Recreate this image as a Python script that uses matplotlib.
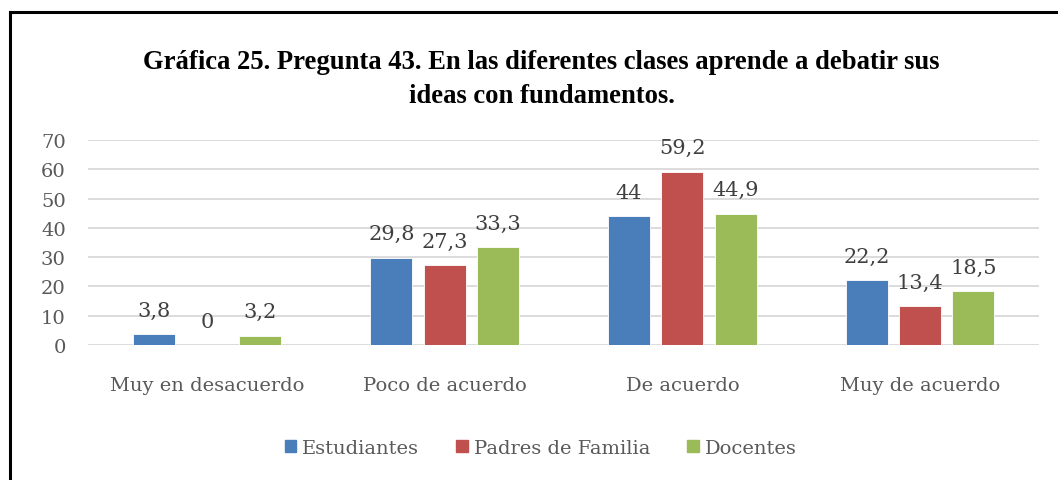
import numpy as np
import matplotlib.pyplot as plt
from matplotlib.lines import Line2D

categorias = ['Muy en desacuerdo', 'Poco de acuerdo', 'De acuerdo', 'Muy de acuerdo']
estudiantes = [3.8, 29.8, 44, 22.2]
padres = [0, 27.3, 59.2, 13.4]
docentes = [3.2, 33.3, 44.9, 18.5]
series = ['Estudiantes', 'Padres de Familia', 'Docentes']
colores = ['#4a7ebb', '#c0504d', '#9bbb59']

plt.rcParams['font.family'] = ['DejaVu Serif']

fig = plt.figure(figsize=(10.58, 4.81), dpi=100)
ax = fig.add_axes([88 / 1058, 1 - 346 / 481, (1039 - 88) / 1058, (346 - 141) / 481])

x = np.arange(len(categorias))
w = 0.176
paso = 0.224
for i, (vals, nombre, c) in enumerate(zip([estudiantes, padres, docentes], series, colores)):
    pos = x + (i - 1) * paso
    ax.bar(pos, vals, w, color=c, edgecolor='white', linewidth=0.6,
           label=nombre, zorder=3)
    for xb, v in zip(pos, vals):
        txt = f'{v:g}'.replace('.', ',')
        ax.text(xb, v + 4.9, txt, ha='center', va='bottom', fontsize=15,
                color='#404040')

ax.set_ylim(0, 70)
ax.set_xlim(-0.5, 3.5)
ax.set_yticks(range(0, 71, 10))
ax.yaxis.grid(True, color='#d9d9d9', linewidth=1.3, zorder=0)
ax.set_axisbelow(True)
for s in ['top', 'right', 'left', 'bottom']:
    ax.spines[s].set_visible(False)
ax.tick_params(axis='both', length=0, labelsize=14, labelcolor='#595959')
ax.tick_params(axis='y', pad=16)
ax.tick_params(axis='x', pad=22)
ax.set_xticks(x)
ax.set_xticklabels(categorias)

fig.text(0.512, 1 - 79.5 / 481, 'Gráfica 25. Pregunta 43. En las diferentes clases aprende a debatir sus\nideas con fundamentos.',
         ha='center', va='center', fontsize=19.2, fontweight='bold', linespacing=1.5,
         family=['Liberation Serif'])

handles = [plt.Rectangle((0, 0), 1, 1, color=c) for c in colores]
fig.legend(handles, series, loc='center', bbox_to_anchor=(0.511, 1 - 449 / 481),
           ncol=3, frameon=False, fontsize=14, handlelength=0.6, handleheight=0.6,
           handletextpad=0.3, columnspacing=1.9, labelcolor='#595959')

# marco de la imagen original
fig.add_artist(Line2D([10 / 1058, 1], [1 - 13 / 481, 1 - 13 / 481], color='black', lw=2.2))
fig.add_artist(Line2D([10 / 1058, 10 / 1058], [0, 1 - 13 / 481], color='black', lw=2.2))

fig.savefig('out.png', dpi=100)
